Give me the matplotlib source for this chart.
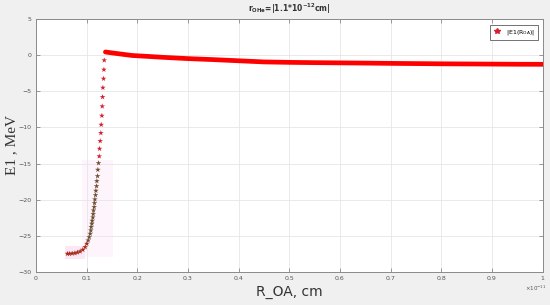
import matplotlib
matplotlib.use("Agg")
import matplotlib.pyplot as plt
from matplotlib.lines import Line2D
from matplotlib.patches import Rectangle

# steep branch (x in units of 1e-11 cm, E1 in MeV)
r_steep = [0.0620, 0.0660, 0.0713, 0.0766, 0.0818, 0.0871, 0.0924, 0.0970,
           0.1003, 0.1030, 0.1050, 0.1069, 0.1082, 0.1089, 0.1102, 0.1109,
           0.1122, 0.1129, 0.1135, 0.1148, 0.1155, 0.1162, 0.1175, 0.1182,
           0.1195, 0.1201, 0.1215, 0.1221, 0.1234, 0.1248, 0.1254, 0.1267,
           0.1280, 0.1287, 0.1300, 0.1307, 0.1314, 0.1320, 0.1333, 0.1340,
           0.1347]
e_steep = [-27.50, -27.50, -27.46, -27.42, -27.32, -27.18, -26.95, -26.58,
           -26.12, -25.66, -25.20, -24.73, -24.27, -23.80, -23.34, -22.93,
           -22.47, -22.00, -21.50, -21.03, -20.48, -19.97, -19.37, -18.77,
           -18.13, -17.43, -16.74, -15.86, -14.94, -14.00, -12.95, -11.88,
           -10.77, -9.62, -8.37, -7.07, -5.78, -4.49, -3.24, -1.99, -0.69]

# flat branch after the jump
r_flat = [0.137, 0.15, 0.17, 0.19, 0.22, 0.25, 0.30, 0.35, 0.40, 0.45,
          0.50, 0.55, 0.60, 0.65, 0.70, 0.75, 0.80, 0.85, 0.90, 0.95, 1.00]
e_flat = [0.46, 0.33, 0.15, -0.03, -0.15, -0.28, -0.46, -0.60, -0.76, -0.92,
          -0.98, -1.02, -1.05, -1.08, -1.12, -1.15, -1.18, -1.20, -1.22, -1.24, -1.25]

xticks = [0, 0.1, 0.2, 0.3, 0.4, 0.5, 0.6, 0.7, 0.8, 0.9, 1]
xtick_labels = ['0', '0.1', '0.2', '0.3', '0.4', '0.5', '0.6', '0.7', '0.8', '0.9', '1']
yticks = [-30, -25, -20, -15, -10, -5, 0, 5]

fig = plt.figure(figsize=(5.5, 3.05), dpi=100, facecolor='#f0f0f0')
ax = fig.add_axes([0.0655, 0.109, 0.921, 0.828])
ax.set_facecolor('white')

# faint pink shading seen behind the lower branch
ax.add_patch(Rectangle((0.091, -28.0), 0.06, 13.5, color='#fef4fb', zorder=0, lw=0))
ax.add_patch(Rectangle((0.057, -28.2), 0.04, 1.8, color='#fce8f5', zorder=0, lw=0))

ax.plot(r_flat, e_flat, color='#ff0000', lw=3.4, solid_capstyle='round', zorder=3)
colors = ['#a82a1a' if e < -26 else ('#6e4f35' if e < -14 else '#d42030') for e in e_steep]
ax.scatter(r_steep, e_steep, marker='*', s=18, c=colors, linewidths=0, zorder=3)

ax.set_xlim(0, 1)
ax.set_ylim(-30, 5)
ax.set_xticks(xticks)
ax.set_xticklabels(xtick_labels)
ax.set_yticks(yticks)
ax.grid(True, color='#e6e6e6', lw=0.6)
ax.set_axisbelow(True)
ax.tick_params(direction='in', length=3, width=0.6, colors='#8a8a8a', labelsize=4.5,
               labelcolor='#555555', top=True, right=True, pad=3)
for s in ax.spines.values():
    s.set_color('#8a8a8a')
    s.set_linewidth(0.7)

ax.set_title(r'r$_{\mathbf{OHe}}$=|1.1*10$^{\mathbf{-12}}$cm|', fontsize=5.5,
             fontweight='bold', color='#333333', pad=5)
ax.set_xlabel('R_OA, cm', fontsize=10, color='#333333', labelpad=3)
ax.set_ylabel('E1 , MeV', fontsize=11, family='Liberation Serif', color='#333333')
ax.yaxis.set_label_coords(-0.036, 0.5)
fig.text(0.955, 0.045, r'$\times10^{-11}$', fontsize=4, color='#555555')

handle = Line2D([], [], marker='*', ls='none', color='#d42030', markersize=4)
leg = ax.legend([handle], [r'|E1(R$_{\mathrm{OA}}$)|'], loc='upper right', fontsize=4.5,
                frameon=True, fancybox=False, edgecolor='#333333', handlelength=1.2,
                borderpad=0.5, bbox_to_anchor=(0.997, 0.99))
leg.get_frame().set_linewidth(0.6)

fig.savefig('out.png', dpi=100, facecolor=fig.get_facecolor())
